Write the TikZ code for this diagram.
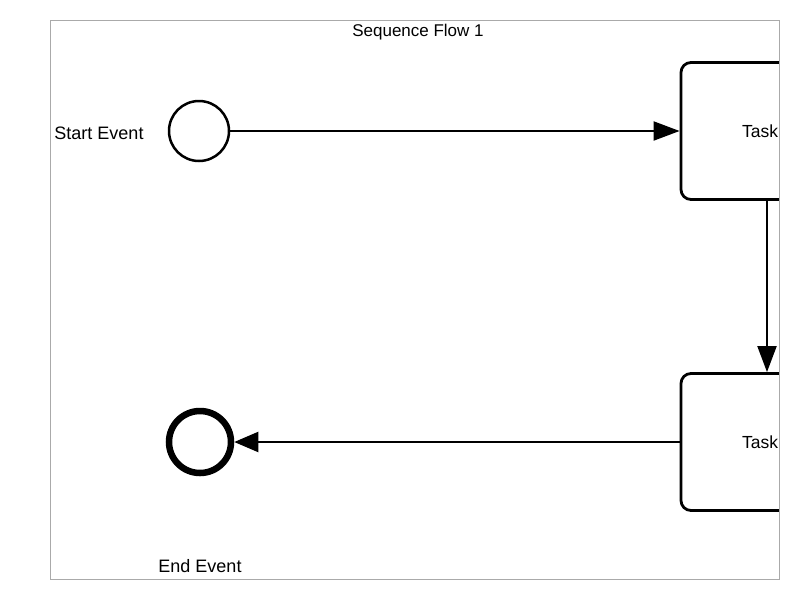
\documentclass[tikz,border=0pt]{standalone}
\usepackage{fontspec}
\setmainfont{Liberation Sans}
\usetikzlibrary{arrows.meta}
\begin{document}
\begin{tikzpicture}[x=1pt,y=-1pt,
  taskbox/.style={draw,line width=2.8pt,rounded corners=10pt,minimum width=158pt,minimum height=137pt,inner sep=0pt,font=\fontsize{17.5}{20}\selectfont},
  flow/.style={line width=2pt,-{Triangle[length=26pt,width=19pt]}},
  lbl/.style={font=\fontsize{18}{20}\selectfont,inner sep=0pt}]
\useasboundingbox (0,0) rectangle (800,600);
\begin{scope}
\clip (50,20) rectangle (779,579);
\node[draw,circle,line width=2.5pt,minimum size=60pt,inner sep=0pt] (start) at (199,131) {};
\node[draw,circle,line width=6.5pt,minimum size=62pt,inner sep=0pt] (end) at (200,442) {};
\node[taskbox] (task1) at (760,131) {Task};
\node[taskbox] (task2) at (760,442) {Task};
\draw[flow] (start) -- (task1);
\draw[flow] ([xshift=7pt]task1.south) -- ([xshift=7pt]task2.north);
\draw[line width=2pt,-{Triangle[length=24pt,width=20pt]}] (task2.west) -- (end);
\end{scope}
\draw[line width=1pt,draw={rgb,255:red,170;green,170;blue,170}] (50,20) rectangle (779,579);
\node[lbl,font=\fontsize{17}{20}\selectfont] (title) at (418,32) {Sequence Flow 1};
\node[lbl] (startlbl) at (99,133) {Start Event};
\node[lbl] (endlbl) at (200,566) {End Event};
\end{tikzpicture}
\end{document}
